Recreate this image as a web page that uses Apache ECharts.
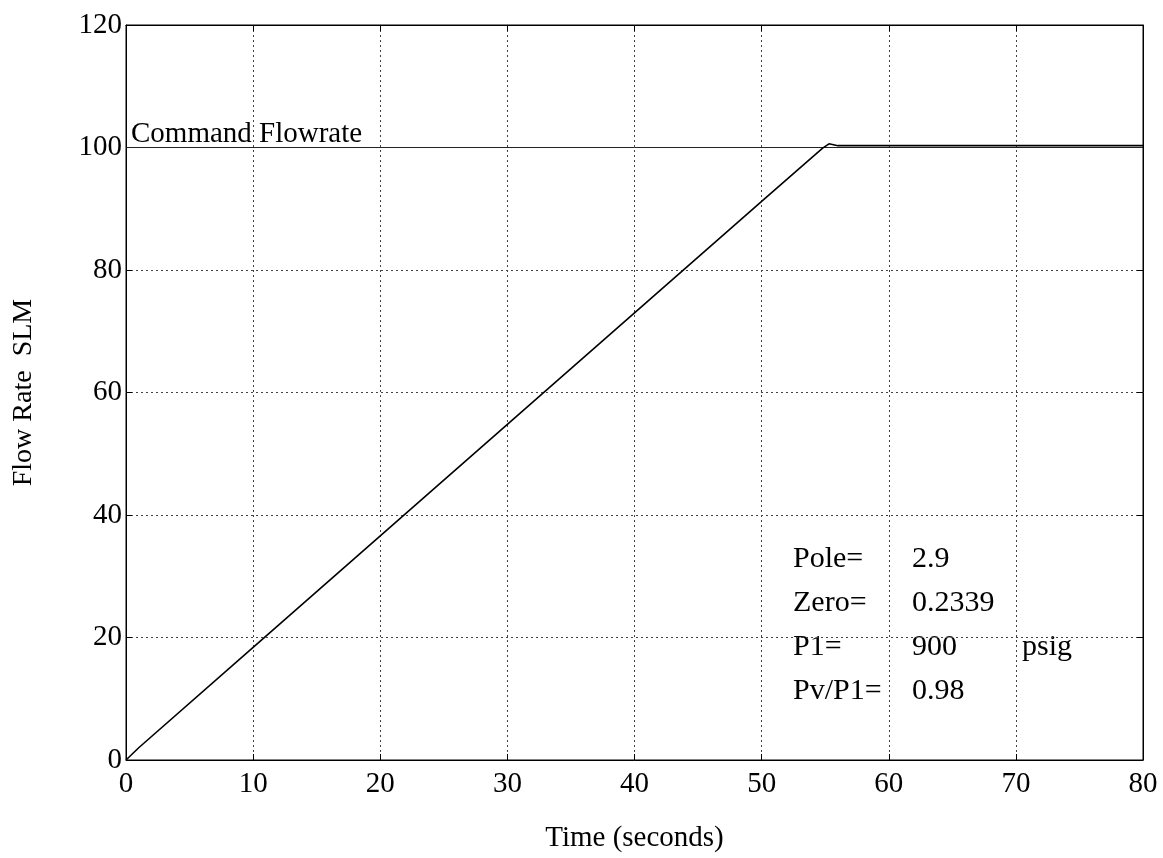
<!DOCTYPE html>
<html><head><meta charset="utf-8">
<script src="https://cdn.jsdelivr.net/npm/echarts@6/dist/echarts.min.js"></script>
<style>html,body{margin:0;padding:0;background:#fff}#c{width:1163px;height:858px}</style>
</head><body><div id="c"></div>
<script>
const xTicks = [0,10,20,30,40,50,60,70,80];
const yTicks = [0,20,40,60,80,100,120];
const commandX = [0, 80];
const commandY = [100, 100];
const responseX = [0, 1, 10, 20, 30, 40, 50, 54.8, 55.3, 56, 60, 70, 80];
const responseY = [0, 2.0, 18.4, 36.6, 54.8, 73.0, 91.2, 99.9, 100.6, 100.3, 100.3, 100.3, 100.3];
const annoLabels = ['Pole=', 'Zero=', 'P1=', 'Pv/P1='];
const annoValues = ['2.9', '0.2339', '900', '0.98'];
const annoUnits = ['', '', 'psig', ''];

const FONT = '"Liberation Serif", "DejaVu Serif", serif';
const chart = echarts.init(document.getElementById('c'));
const gridL = 126, gridR = 20, gridT = 25, gridB = 98;

const axisBase = {
  axisLine: {show: true, onZero: false, lineStyle: {color: '#000', width: 1}},
  axisTick: {show: true, inside: true, length: 6, lineStyle: {color: '#000'}},
};
const graphics = [{
  type: 'text', left: 131, top: 120,
  style: {text: 'Command Flowrate', font: '29px ' + FONT, fill: '#000'}
}];
for (let i = 0; i < annoLabels.length; i++) {
  const cy = 558 + i * 44;
  graphics.push({type: 'text', left: 793, top: cy - 14, style: {text: annoLabels[i], font: '30px ' + FONT, fill: '#000'}});
  graphics.push({type: 'text', left: 912, top: cy - 14, style: {text: annoValues[i], font: '30px ' + FONT, fill: '#000'}});
  if (annoUnits[i]) graphics.push({type: 'text', left: 1022, top: cy - 14, style: {text: annoUnits[i], font: '30px ' + FONT, fill: '#000'}});
}

chart.setOption({
  animation: false,
  backgroundColor: '#fff',
  textStyle: {fontFamily: FONT},
  grid: {left: gridL, right: gridR, top: gridT, bottom: gridB, show: true, borderColor: '#000', borderWidth: 1, containLabel: false},
  xAxis: [Object.assign({
    type: 'value', min: 0, max: 80, interval: 10, position: 'bottom',
    name: 'Time (seconds)', nameLocation: 'middle', nameGap: 64,
    nameTextStyle: {fontSize: 29, fontFamily: FONT, color: '#000'},
    axisLabel: {fontSize: 29, fontFamily: FONT, color: '#000', margin: 10, formatter: v => xTicks.includes(v) ? String(v) : ''},
    splitLine: {show: true, lineStyle: {type: [2, 3], color: '#444', width: 1}}
  }, axisBase), Object.assign({
    type: 'value', min: 0, max: 80, interval: 10, position: 'top',
    axisLabel: {show: false}, splitLine: {show: false}
  }, axisBase)],
  yAxis: [Object.assign({
    type: 'value', min: 0, max: 120, interval: 20, position: 'left',
    name: 'Flow Rate  SLM', nameLocation: 'middle', nameGap: 88,
    nameTextStyle: {fontSize: 28, fontFamily: FONT, color: '#000'},
    axisLabel: {fontSize: 29, fontFamily: FONT, color: '#000', margin: 4, formatter: v => yTicks.includes(v) ? String(v) : ''},
    splitLine: {show: true, lineStyle: {type: [2, 3], color: '#444', width: 1}}
  }, axisBase), Object.assign({
    type: 'value', min: 0, max: 120, interval: 20, position: 'right',
    axisLabel: {show: false}, splitLine: {show: false}
  }, axisBase)],
  series: [{
    type: 'line', name: 'Command', xAxisIndex: 0, yAxisIndex: 0,
    data: commandX.map((x, i) => [x, commandY[i]]),
    symbol: 'none', lineStyle: {color: '#222', width: 1}
  }, {
    type: 'line', name: 'Response', xAxisIndex: 0, yAxisIndex: 0,
    data: responseX.map((x, i) => [x, responseY[i]]),
    symbol: 'none', lineStyle: {color: '#000', width: 1.6}
  }],
  graphic: graphics
});
</script></body></html>
